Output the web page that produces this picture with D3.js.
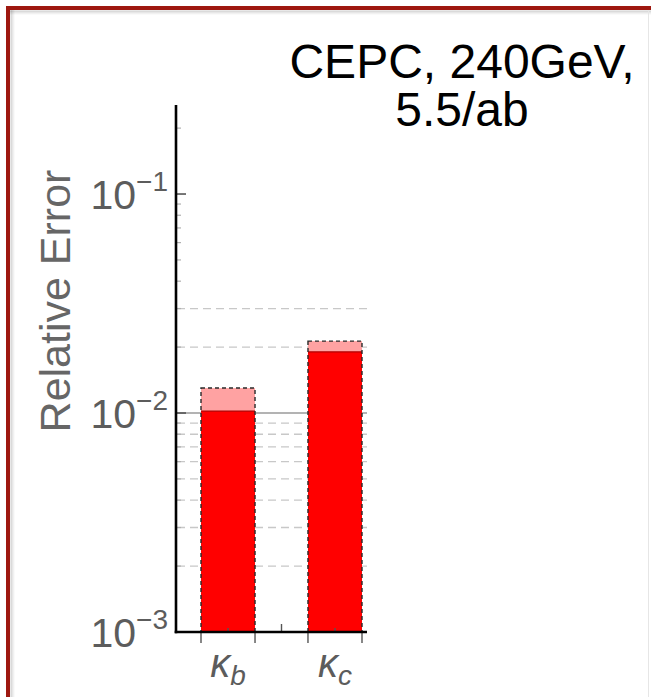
<!DOCTYPE html>
<html>
<head>
<meta charset="utf-8">
<script src="https://cdn.jsdelivr.net/npm/d3@7/dist/d3.min.js"></script>
<style>
  html, body { margin: 0; padding: 0; background: #fff; }
  svg { display: block; }
  text { font-family: "Liberation Sans", Arial, Helvetica, sans-serif; }
</style>
</head>
<body>
<svg id="chart" width="651" height="697"></svg>
<script>
// ---- data ----
const categories = ["b", "c"];              // subscripts of kappa
const categorySymbol = "κ";
const baseValues = [0.0102, 0.0190];        // dark red bars
const totalValues = [0.0130, 0.0213];       // light red (upper) bars
const majorTicks = [0.001, 0.01, 0.1];
const majorTickExponents = ["−3", "−2", "−1"];
const dashedGrid = [0.002, 0.003, 0.004, 0.005, 0.006, 0.007, 0.008, 0.009, 0.02, 0.03];
const solidGrid = [0.01];
const titleLines = ["CEPC, 240GeV,", "5.5/ab"];
const yLabel = "Relative Error";

// ---- layout ----
const svg = d3.select("#chart");
const W = 651, H = 697;
const plot = { left: 176, right: 367, top: 105, bottom: 632 };

// frame with shadow
const frame = svg.append("g");
[[1, 0.18], [2, 0.12], [3, 0.07], [4, 0.04]].forEach(([o, a]) => {
  frame.append("line").attr("x1", 10 + o).attr("x2", 10 + o).attr("y1", 10).attr("y2", H)
    .attr("stroke", `rgba(0,0,0,${a})`).attr("stroke-width", 1);
  frame.append("line").attr("x1", 10).attr("x2", W).attr("y1", 10 + o).attr("y2", 10 + o)
    .attr("stroke", `rgba(0,0,0,${a})`).attr("stroke-width", 1);
});
frame.append("line").attr("x1", 648.5).attr("x2", 648.5).attr("y1", 10).attr("y2", H)
  .attr("stroke", "#e6e6e6").attr("stroke-width", 1);
frame.append("line").attr("x1", 8).attr("x2", 8).attr("y1", 6).attr("y2", H)
  .attr("stroke", "#9e1810").attr("stroke-width", 4);
frame.append("line").attr("x1", 6).attr("x2", W).attr("y1", 8).attr("y2", 8)
  .attr("stroke", "#9e1810").attr("stroke-width", 4);

// scales
const y = d3.scaleLog().domain([0.001, 0.255]).range([plot.bottom, plot.top]);
const x = d3.scaleBand().domain(categories).range([201, 362]).paddingInner(0.495).paddingOuter(0);

// gridlines
const grid = svg.append("g");
grid.selectAll("line.dg").data(dashedGrid).join("line")
  .attr("x1", plot.left + 1).attr("x2", plot.right)
  .attr("y1", d => y(d)).attr("y2", d => y(d))
  .attr("stroke", "#c8c8c8").attr("stroke-width", 1.3).attr("stroke-dasharray", "8,5");
grid.selectAll("line.sg").data(solidGrid).join("line")
  .attr("x1", plot.left).attr("x2", plot.right)
  .attr("y1", d => y(d)).attr("y2", d => y(d))
  .attr("stroke", "#9a9a9a").attr("stroke-width", 1.6);

// bars
const bars = svg.append("g");
const rows = categories.map((c, i) => ({ c, base: baseValues[i], total: totalValues[i] }));
bars.selectAll("rect.light").data(rows).join("rect")
  .attr("x", d => x(d.c)).attr("width", x.bandwidth())
  .attr("y", d => y(d.total)).attr("height", d => y(0.001) - y(d.total))
  .attr("fill", "#ffa2a2");
bars.selectAll("rect.dark").data(rows).join("rect")
  .attr("x", d => x(d.c)).attr("width", x.bandwidth())
  .attr("y", d => y(d.base)).attr("height", d => y(0.001) - y(d.base))
  .attr("fill", "#ff0000");
bars.selectAll("line.top").data(rows).join("line")
  .attr("x1", d => x(d.c)).attr("x2", d => x(d.c) + x.bandwidth())
  .attr("y1", d => y(d.base)).attr("y2", d => y(d.base))
  .attr("stroke", "#b00000").attr("stroke-width", 1.2);
bars.selectAll("rect.outline").data(rows).join("rect")
  .attr("x", d => x(d.c)).attr("width", x.bandwidth())
  .attr("y", d => y(d.total)).attr("height", d => y(0.001) - y(d.total))
  .attr("fill", "none").attr("stroke", "#2a2a2a").attr("stroke-width", 1.4)
  .attr("stroke-dasharray", "4,3");

// y axis ticks
const axes = svg.append("g");
const minor = y.ticks().filter(t => !majorTicks.some(m => Math.abs(m - t) / m < 1e-6));
axes.selectAll("line.minor").data(minor).join("line")
  .attr("x1", plot.left).attr("x2", plot.left + 5)
  .attr("y1", d => y(d)).attr("y2", d => y(d))
  .attr("stroke", "#b0b0b0").attr("stroke-width", 1.2);
axes.selectAll("line.major").data(majorTicks).join("line")
  .attr("x1", plot.left).attr("x2", plot.left + 10)
  .attr("y1", d => y(d)).attr("y2", d => y(d))
  .attr("stroke", "#555").attr("stroke-width", 1.6);

// x axis ticks
const edges = [];
categories.forEach(c => { edges.push(x(c)); edges.push(x(c) + x.bandwidth()); });
axes.selectAll("line.xedge").data(edges).join("line")
  .attr("x1", d => d).attr("x2", d => d)
  .attr("y1", plot.bottom).attr("y2", plot.bottom + 11)
  .attr("stroke", "#555").attr("stroke-width", 1.4);
axes.selectAll("line.xcenter").data(categories).join("line")
  .attr("x1", d => x(d) + x.bandwidth() / 2).attr("x2", d => x(d) + x.bandwidth() / 2)
  .attr("y1", plot.bottom).attr("y2", plot.bottom - 4)
  .attr("stroke", "#555").attr("stroke-width", 1.4);
const mids = categories.slice(1).map((c, i) => (x(categories[i]) + x.bandwidth() + x(c)) / 2);
axes.selectAll("line.xmid").data(mids).join("line")
  .attr("x1", d => d).attr("x2", d => d)
  .attr("y1", plot.bottom).attr("y2", plot.bottom - 8)
  .attr("stroke", "#555").attr("stroke-width", 1.4);

// axis lines
axes.append("line").attr("x1", plot.left).attr("x2", plot.left)
  .attr("y1", plot.top).attr("y2", plot.bottom + 1.2)
  .attr("stroke", "#000").attr("stroke-width", 2.6);
axes.append("line").attr("x1", plot.left - 1.3).attr("x2", plot.right)
  .attr("y1", plot.bottom).attr("y2", plot.bottom)
  .attr("stroke", "#000").attr("stroke-width", 2.6);

// y tick labels
const ylab = axes.selectAll("text.ytl").data(majorTicks).join("text")
  .attr("x", 168).attr("y", d => y(d) + 15)
  .attr("text-anchor", "end").attr("fill", "#5c5c5c").attr("font-size", 41);
ylab.append("tspan").text("10");
ylab.append("tspan").attr("font-size", 28).attr("dy", -18)
  .text((d, i) => majorTickExponents[i]);

// x tick labels
const xlab = axes.selectAll("text.xtl").data(categories).join("text")
  .attr("x", d => x(d) + x.bandwidth() / 2).attr("y", 677)
  .attr("text-anchor", "middle").attr("fill", "#5c5c5c")
  .attr("font-style", "italic").attr("font-size", 40);
xlab.append("tspan").text(categorySymbol);
xlab.append("tspan").attr("font-size", 28).attr("dy", 8).text(d => d);

// y label
svg.append("text")
  .attr("transform", "translate(70,301) rotate(-90)")
  .attr("text-anchor", "middle").attr("fill", "#666").attr("font-size", 43)
  .text(yLabel);

// title
svg.append("g").selectAll("text").data(titleLines).join("text")
  .attr("x", 462).attr("y", (d, i) => 78 + i * 48)
  .attr("text-anchor", "middle").attr("fill", "#000").attr("font-size", 48)
  .text(d => d);
</script>
</body>
</html>
